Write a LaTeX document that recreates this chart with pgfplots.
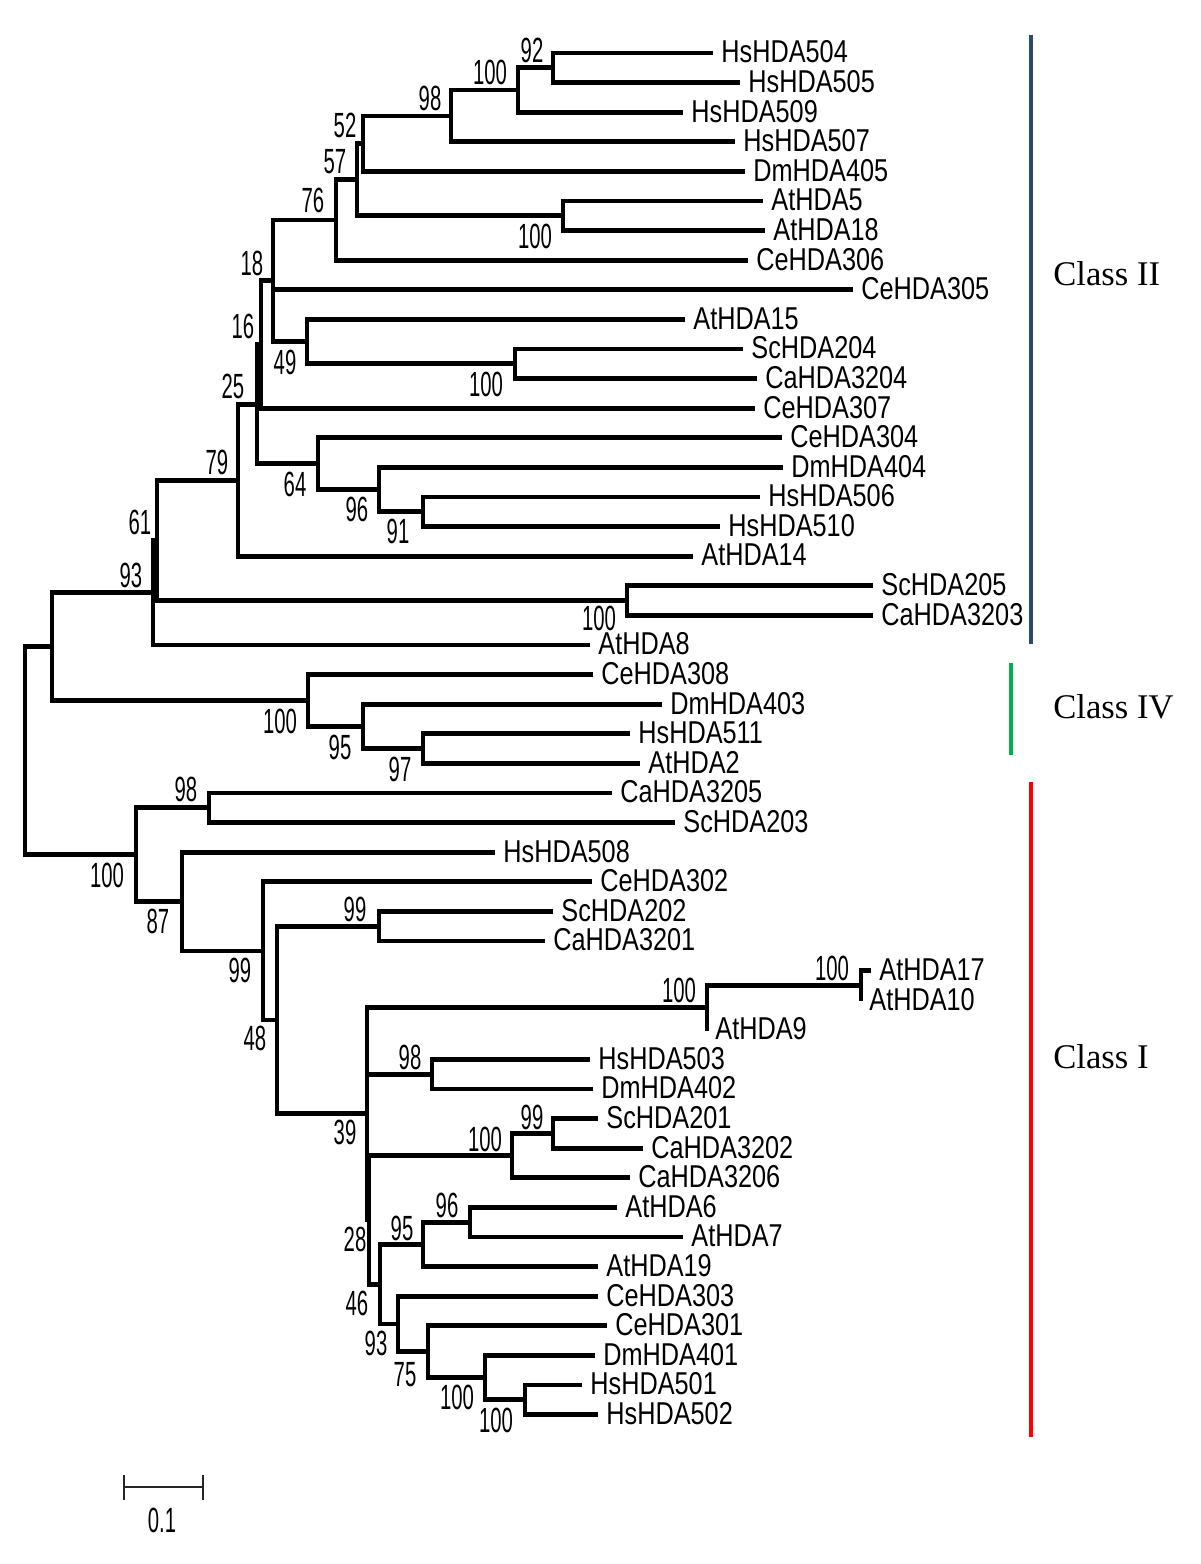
\documentclass[border=0pt]{standalone}
\usepackage{pgfplots}
\pgfplotsset{compat=1.18}
\usepackage{fontspec}
\setmainfont{Liberation Sans}
\newfontfamily\leaffont{Liberation Sans}[FakeStretch=0.80]
\newfontfamily\bootfont{Liberation Sans}[FakeStretch=0.58]
\newfontfamily\classfont{Liberation Serif}
\definecolor{cII}{RGB}{44,74,110}
\definecolor{cIV}{RGB}{0,176,80}
\definecolor{cI}{RGB}{255,0,0}
\begin{document}
\begin{tikzpicture}
\begin{axis}[name=ax, width=600pt, height=782pt, scale only axis,
  xmin=0, xmax=1200, ymin=0, ymax=1564, y dir=reverse,
  hide axis, clip=false, unbounded coords=jump]
% ---- tree branches (pixel units) ----
\addplot[black, line width=2.4pt, line join=miter, mark=none] coordinates {
(713,53)(553,53)(553,82.6)(740,82.6) (nan,nan)
(553,67.8)(518,67.8)(518,112.2)(683,112.2) (nan,nan)
(518,90)(451,90)(451,141.8)(735,141.8) (nan,nan)
(451,115.9)(363,115.9)(363,171.4)(745,171.4) (nan,nan)
(763,201)(563,201)(563,230.6)(765,230.6) (nan,nan)
(363,143.6)(357,143.6)(357,215.8)(563,215.8) (nan,nan)
(357,179.7)(336,179.7)(336,260.2)(748,260.2) (nan,nan)
(743,349)(515,349)(515,378.6)(757,378.6) (nan,nan)
(685,319.4)(307,319.4)(307,363.8)(515,363.8) (nan,nan)
(336,220)(273,220)(273,341.6)(307,341.6) (nan,nan)
(273,289.8)(853,289.8) (nan,nan)
(273,280.8)(261,280.8)(261,408.2)(755,408.2) (nan,nan)
(760,497)(423,497)(423,526.6)(720,526.6) (nan,nan)
(783,467.4)(379,467.4)(379,511.8)(423,511.8) (nan,nan)
(782,437.8)(318,437.8)(318,489.6)(379,489.6) (nan,nan)
(261,344.5)(257,344.5)(257,463.7)(318,463.7) (nan,nan)
(257,404.1)(238,404.1)(238,556.2)(693,556.2) (nan,nan)
(873,585.8)(627,585.8)(627,615.4)(873,615.4) (nan,nan)
(238,480.2)(157,480.2)(157,600.6)(627,600.6) (nan,nan)
(157,540.4)(153,540.4)(153,645)(590,645) (nan,nan)
(630,733.8)(423,733.8)(423,763.4)(640,763.4) (nan,nan)
(662,704.2)(363,704.2)(363,748.6)(423,748.6) (nan,nan)
(593,674.6)(308,674.6)(308,726.4)(363,726.4) (nan,nan)
(153,592.7)(52,592.7)(52,700.5)(308,700.5) (nan,nan)
(612,793)(209,793)(209,822.6)(675,822.6) (nan,nan)
(553,911.4)(379,911.4)(379,941)(545,941) (nan,nan)
(871,970.6)(861,970.6)(861,1001) (nan,nan)
(861,985.4)(707,985.4)(707,1031) (nan,nan)
(590,1059.4)(432,1059.4)(432,1089)(593,1089) (nan,nan)
(598,1118.6)(553,1118.6)(553,1148.2)(643,1148.2) (nan,nan)
(553,1133.4)(512,1133.4)(512,1177.8)(630,1177.8) (nan,nan)
(617,1207.4)(470,1207.4)(470,1237)(683,1237) (nan,nan)
(470,1222.2)(423,1222.2)(423,1266.6)(598,1266.6) (nan,nan)
(582,1385)(525,1385)(525,1414.6)(598,1414.6) (nan,nan)
(595,1355.4)(485,1355.4)(485,1399.8)(525,1399.8) (nan,nan)
(607,1325.8)(428,1325.8)(428,1377.6)(485,1377.6) (nan,nan)
(598,1296.2)(398,1296.2)(398,1351.7)(428,1351.7) (nan,nan)
(423,1244.4)(380,1244.4)(380,1324)(398,1324) (nan,nan)
(512,1155.6)(369,1155.6)(369,1284.2)(380,1284.2) (nan,nan)
(707,1007.6)(367,1007.6)(367,1219.9)(369,1219.9) (nan,nan)
(367,1074.2)(432,1074.2) (nan,nan)
(379,926.2)(277,926.2)(277,1113.8)(367,1113.8) (nan,nan)
(592,881.8)(263,881.8)(263,1020)(277,1020) (nan,nan)
(495,852.2)(182,852.2)(182,950.9)(263,950.9) (nan,nan)
(209,807.8)(136,807.8)(136,901.6)(182,901.6) (nan,nan)
(52,646.6)(25,646.6)(25,854.7)(136,854.7)
};
% ---- leaf labels ----
\addplot[draw=none, mark=none, point meta=explicit symbolic,
  nodes near coords={\pgfplotspointmeta},
  every node near coord/.style={anchor=west, inner sep=0pt,
    font=\leaffont\fontsize{15.8pt}{16pt}\selectfont}]
  table[meta=name] {
x y name
721 52 HsHDA504
748 81.6 HsHDA505
691 111.2 HsHDA509
743 140.8 HsHDA507
753 170.4 DmHDA405
771 200 AtHDA5
773 229.6 AtHDA18
756 259.2 CeHDA306
861 288.8 CeHDA305
693 318.4 AtHDA15
751 348 ScHDA204
765 377.6 CaHDA3204
763 407.2 CeHDA307
790 436.8 CeHDA304
791 466.4 DmHDA404
768 496 HsHDA506
728 525.6 HsHDA510
701 555.2 AtHDA14
881 584.8 ScHDA205
881 614.4 CaHDA3203
598 644 AtHDA8
601 673.6 CeHDA308
670 703.2 DmHDA403
638 732.8 HsHDA511
648 762.4 AtHDA2
620 792 CaHDA3205
683 821.6 ScHDA203
503 851.2 HsHDA508
600 880.8 CeHDA302
561 910.4 ScHDA202
553 940 CaHDA3201
879 969.6 AtHDA17
869 999.2 AtHDA10
715 1028.8 AtHDA9
598 1058.4 HsHDA503
601 1088 DmHDA402
606 1117.6 ScHDA201
651 1147.2 CaHDA3202
638 1176.8 CaHDA3206
625 1206.4 AtHDA6
691 1236 AtHDA7
606 1265.6 AtHDA19
606 1295.2 CeHDA303
615 1324.8 CeHDA301
603 1354.4 DmHDA401
590 1384 HsHDA501
606 1413.6 HsHDA502
};
% ---- bootstrap values ----
\addplot[draw=none, mark=none, point meta=explicit symbolic,
  nodes near coords={\pgfplotspointmeta},
  every node near coord/.style={anchor=center, inner sep=0pt,
    font=\bootfont\fontsize{17.5pt}{18pt}\selectfont}]
  table[meta=b] {
x y b
532 50 92
490 72 100
430 98 98
345 125 52
335 162 57
313 200 76
535 236 100
252 263 18
243 326 16
285 362 49
486 384 100
233 386 25
217 462 79
295 484 64
357 509 96
398 531 91
140 522 61
131 575 93
599 618 100
280 721 100
340 747 95
400 769 97
186 789 98
107 875 100
158 921 87
355 909 99
240 970 99
255 1038 48
679 990 100
832 968 100
410 1057 98
345 1132 39
485 1139 100
532 1117 99
447 1205 96
402 1228 95
355 1239 28
357 1303 46
376 1343 93
405 1375 75
457 1397 100
496 1420 100
};
% ---- class bars ----
\addplot[cII, line width=2pt, mark=none] coordinates {(1031,35)(1031,644)};
\addplot[cIV, line width=2pt, mark=none] coordinates {(1011,663)(1011,755)};
\addplot[cI, line width=2pt, mark=none] coordinates {(1031,782)(1031,1437)};
\addplot[draw=none, mark=none, point meta=explicit symbolic,
  nodes near coords={\pgfplotspointmeta},
  every node near coord/.style={anchor=west, inner sep=0pt,
    font=\classfont\fontsize{17.3pt}{18pt}\selectfont}]
  table[meta=c, col sep=comma] {
x,y,c
1053,274,Class II
1053,707,Class IV
1053,1057,Class I
};
% ---- scale bar ----
\addplot[black!85, line width=1.3pt, mark=none] coordinates {(124,1487)(203,1487)};
\addplot[black!85, line width=1pt, mark=none] coordinates {(124,1475)(124,1500)};
\addplot[black!85, line width=1pt, mark=none] coordinates {(203,1475)(203,1500)};
\addplot[draw=none, mark=none, point meta=explicit symbolic,
  nodes near coords={\pgfplotspointmeta},
  every node near coord/.style={anchor=center, inner sep=0pt,
    font=\bootfont\fontsize{17.5pt}{18pt}\selectfont}]
  table[meta=s] {
x y s
162 1520 0.1
};
\end{axis}
\pgfresetboundingbox
\path[use as bounding box] (ax.south west) rectangle (ax.north east);
\end{tikzpicture}
\end{document}
